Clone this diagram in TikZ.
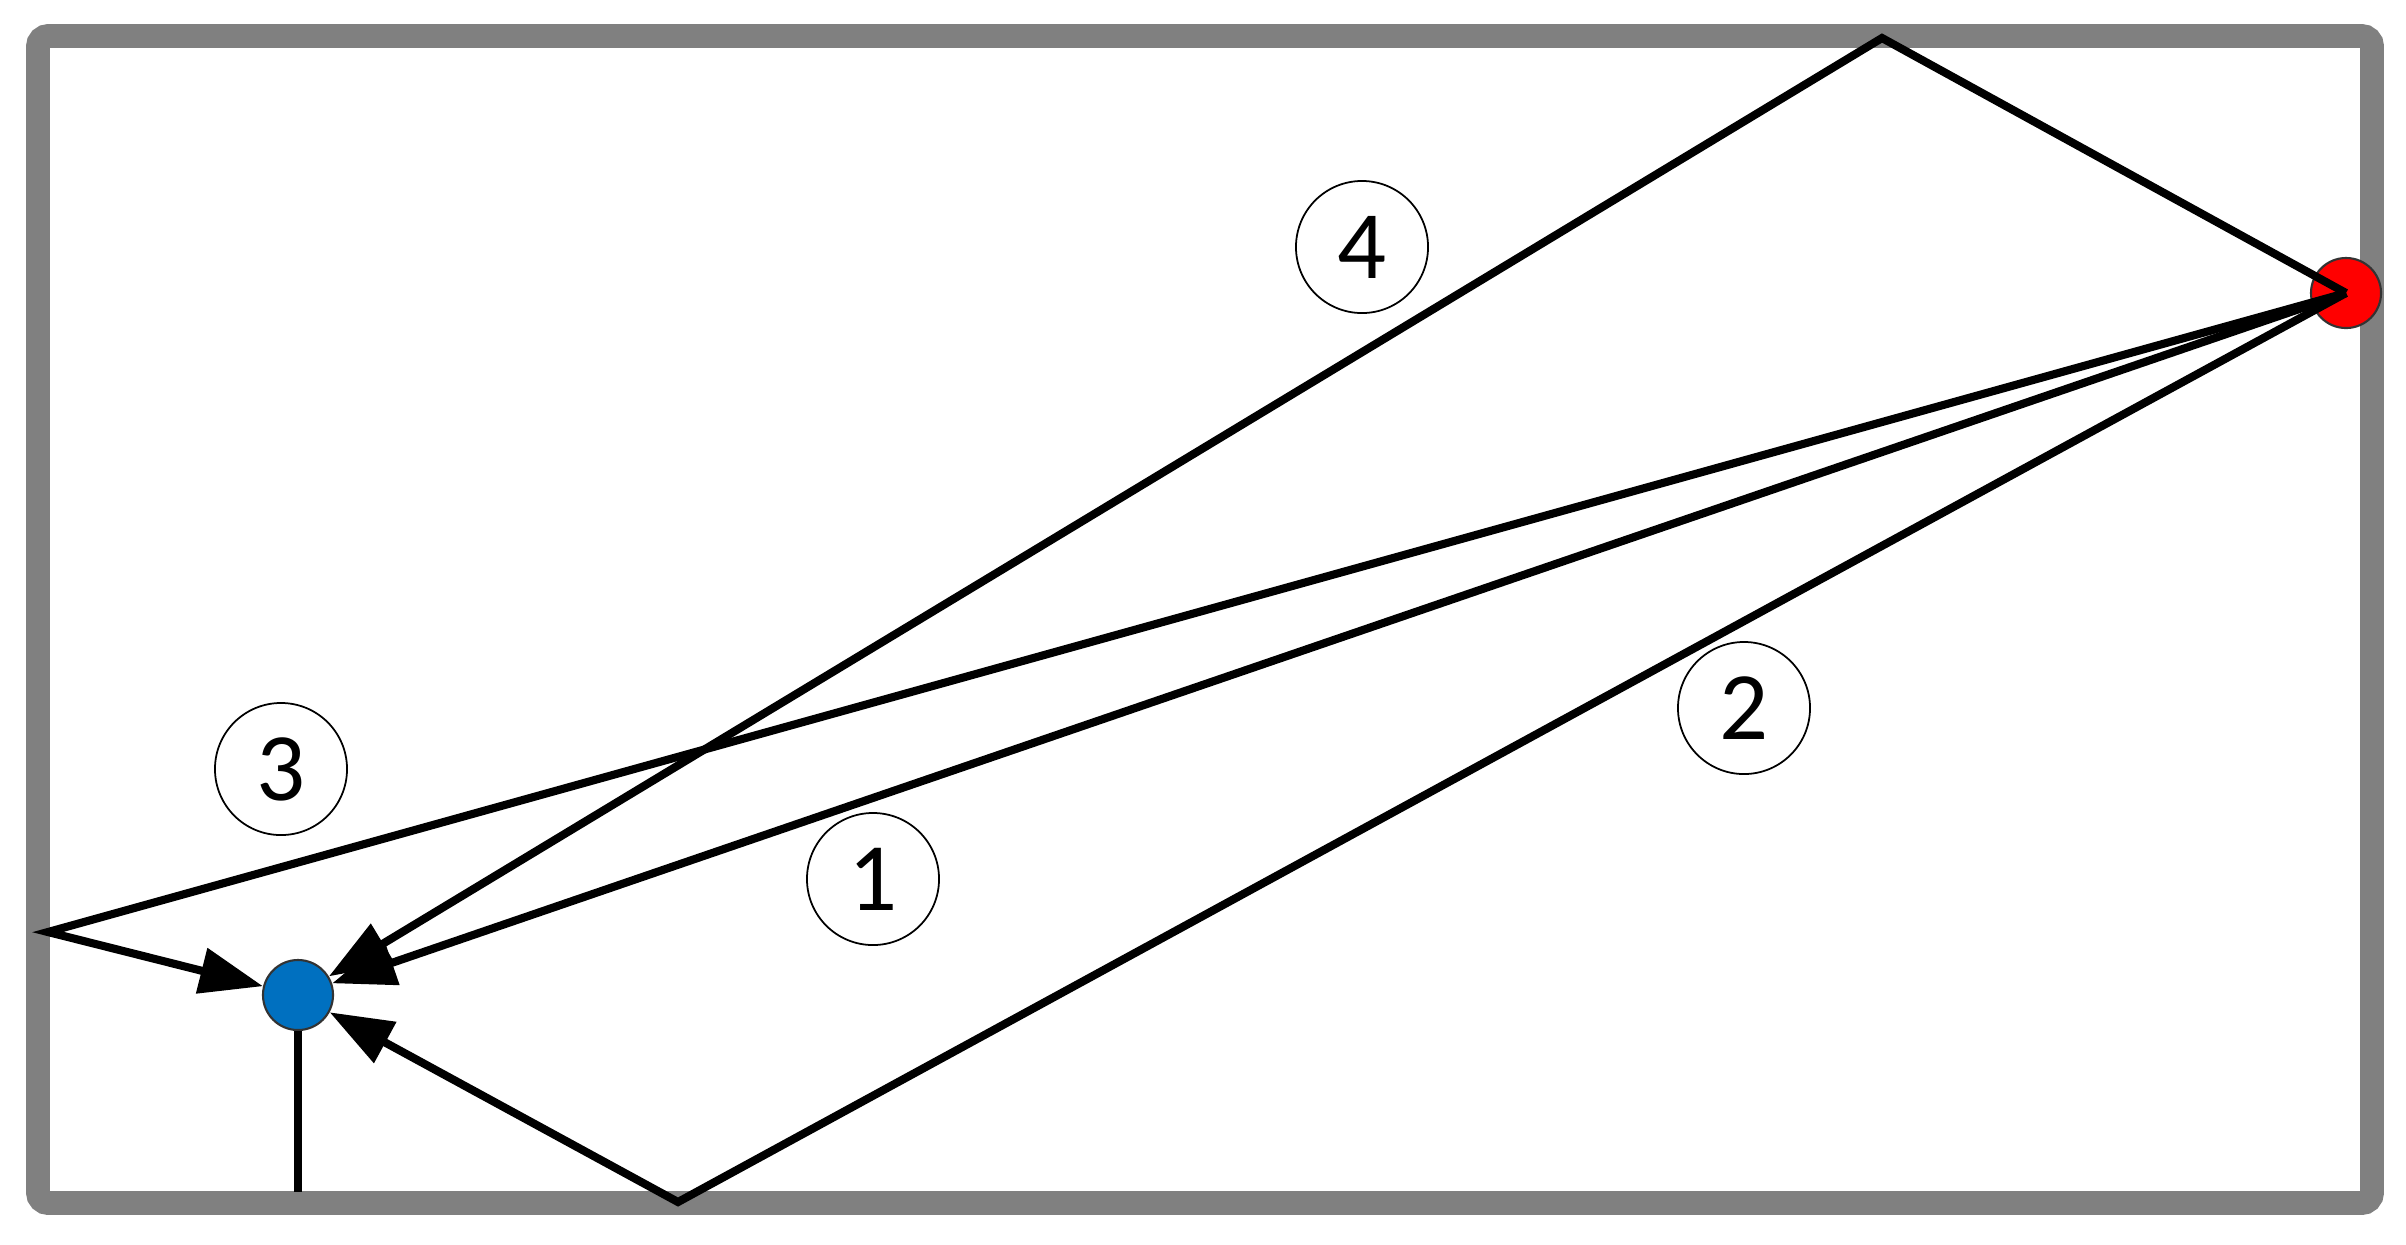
\documentclass[tikz,border=0pt]{standalone}
\usepackage{fontspec}
\setmainfont{Carlito}
\usepackage{xcolor}
\usetikzlibrary{arrows.meta}
\definecolor{marco}{HTML}{808080}
\definecolor{azul}{HTML}{0070C0}
\tikzset{
	rayo/.style={black, line width=2.3pt, -{Triangle[length=18pt, width=12.8pt]}},
	etiqueta/.style={circle, draw, line width=.5pt, minimum size=1.32cm, inner sep=0pt, font=\fontsize{27.5}{33}\selectfont},
	punto/.style={circle, draw=black!80, line width=.6pt, minimum size=.7cm, inner sep=0pt}
}
\begin{document}
\begin{tikzpicture}[x=.01cm, y=-.01cm]
				\useasboundingbox (0,0) rectangle (2406,1244);
				%Marco
				\draw[marco, line width=6.8pt, rounded corners=3pt] (38,36) rectangle (2372,1203);
				%Emisor y receptor
				\node[punto, fill=red] (tx) at (2346,293) {};
				\node[punto, fill=azul] (rx) at (298,995) {};
				\coordinate (pie) at (298,1192);
				\draw[black, line width=2.3pt] (rx) -- (pie);
				%Puntos de reflexion
				\coordinate (techo) at (1882,38);
				\coordinate (suelo) at (678,1202);
				\coordinate (pared) at (48,932);
				%Rayos
				\draw[rayo] (tx.center) -- (rx);
				\draw[rayo] (tx.center) -- (suelo) -- (rx);
				\draw[rayo] (tx.center) -- (pared) -- (rx);
				\draw[rayo] (tx.center) -- (techo) -- (rx);
				%Etiquetas
				\node[etiqueta] (n1) at (873,879) {1};
				\node[etiqueta] (n2) at (1744,708) {2};
				\node[etiqueta] (n3) at (281,769) {3};
				\node[etiqueta] (n4) at (1362,247) {4};
\end{tikzpicture}
\end{document}
